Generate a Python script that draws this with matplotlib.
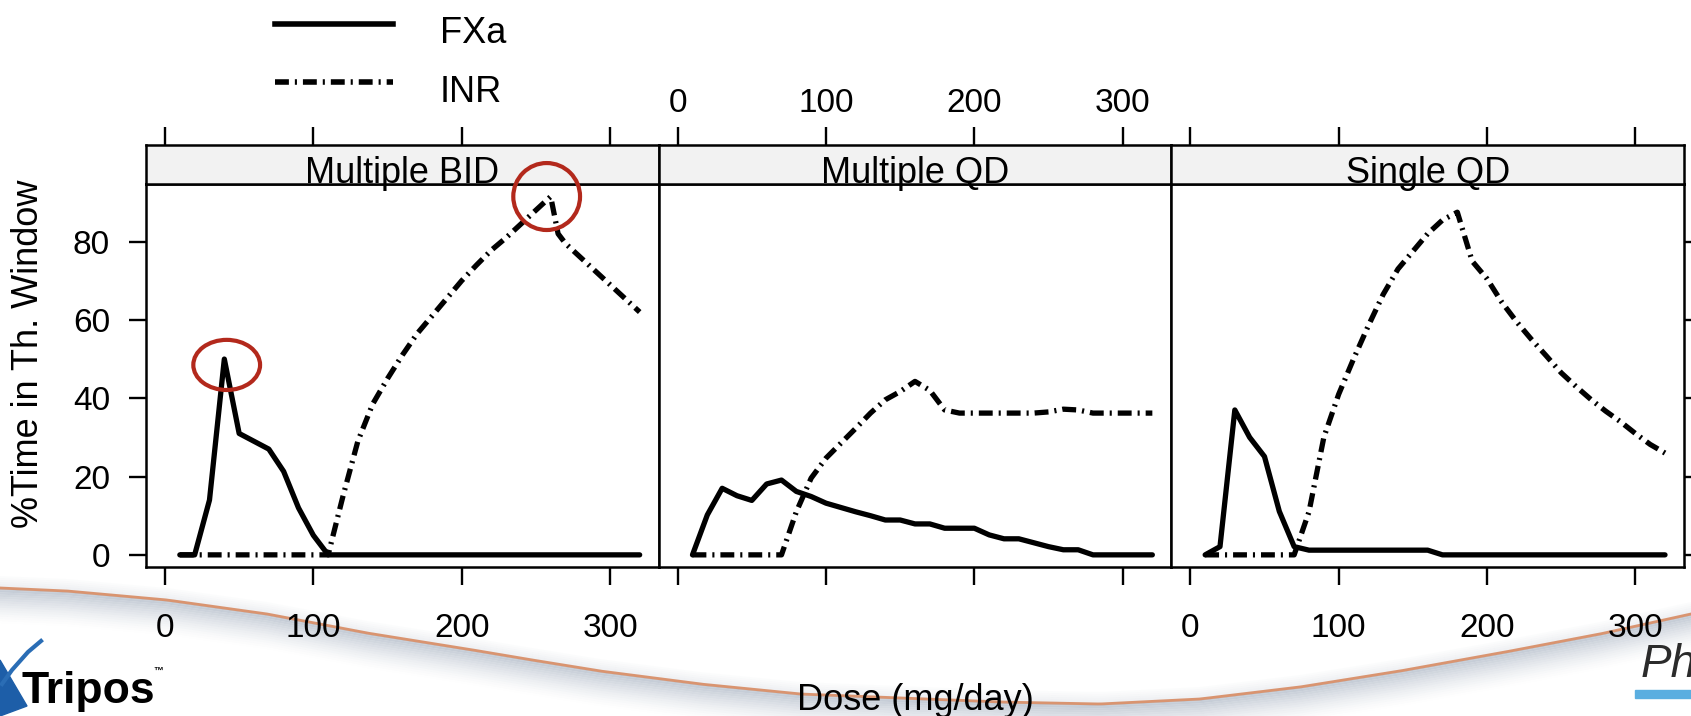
import numpy as np
import matplotlib.pyplot as plt
from matplotlib.lines import Line2D
from matplotlib.patches import Ellipse, Polygon, Rectangle

plt.rcParams['font.family'] = ['Liberation Sans', 'DejaVu Sans']
plt.rcParams['lines.scale_dashes'] = False

W, H = 1691, 716

panels = ['Multiple BID', 'Multiple QD', 'Single QD']

# Multiple BID (extra point at 265 where INR drops)
dose_bid = [10, 20, 30, 40, 50, 60, 70, 80, 90, 100, 110, 120, 130, 140, 150, 160,
            170, 180, 190, 200, 210, 220, 230, 240, 250, 260, 265, 270, 280, 290,
            300, 310, 320]
fxa_bid = [0, 0, 14, 50, 31, 29, 27, 21.3, 12, 5, 0, 0, 0, 0, 0, 0,
           0, 0, 0, 0, 0, 0, 0, 0, 0, 0, 0, 0, 0, 0,
           0, 0, 0]
inr_bid = [0, 0, 0, 0, 0, 0, 0, 0, 0, 0, 0, 15, 29, 38.5, 45, 51,
           56.5, 61, 65.5, 70, 74, 77.8, 81, 84.5, 88, 91.5, 82, 79.5, 76, 72.5,
           69, 65.5, 62]

# Multiple QD / Single QD
dose_qd = [10, 20, 30, 40, 50, 60, 70, 80, 90, 100, 110, 120, 130, 140, 150, 160,
           170, 180, 190, 200, 210, 220, 230, 240, 250, 260, 270, 280, 290, 300,
           310, 320]
fxa_mqd = [0, 10.2, 17, 15.1, 13.9, 18.1, 19.1, 16.2, 14.9, 13.2, 12.1, 11, 10, 8.9, 8.9, 7.9,
           7.9, 6.8, 6.8, 6.8, 5.1, 4.1, 4.1, 3.1, 2.1, 1.3, 1.3, 0, 0, 0,
           0, 0]
inr_mqd = [0, 0, 0, 0, 0, 0, 0, 11, 19.6, 24.7, 28.5, 32.3, 36.2, 39.6, 41.7, 44.3,
           42, 37, 36.2, 36.2, 36.2, 36.2, 36.2, 36.2, 36.5, 37.2, 37, 36.2, 36.2, 36.2,
           36.2, 36.2]
fxa_sqd = [0, 2.1, 37, 30, 25.1, 11.1, 2.1, 1.2, 1.2, 1.2, 1.2, 1.2, 1.2, 1.2, 1.2, 1.2,
           0, 0, 0, 0, 0, 0, 0, 0, 0, 0, 0, 0, 0, 0,
           0, 0]
inr_sqd = [0, 0, 0, 0, 0, 0, 0, 11, 30, 41, 50, 58.5, 66.5, 73, 77.5, 82,
           85.5, 87.5, 75, 70.5, 64.5, 59.5, 55, 50.8, 46.5, 43, 39.7, 36.7, 34, 31,
           28.2, 26]

xticks = [0, 100, 200, 300]
yticks = [0, 20, 40, 60, 80]

series = [(dose_bid, fxa_bid, inr_bid),
          (dose_qd, fxa_mqd, inr_mqd),
          (dose_qd, fxa_sqd, inr_sqd)]

inr_dash = (10, 4.3, 1.5, 4.3)
red = '#b3291c'
lw_data = 3.8

fig = plt.figure(figsize=(W / 100, H / 100), dpi=100)

# slide background: swoosh + logos
bg = fig.add_axes([0, 0, 1, 1], zorder=-10)
bg.set_xlim(0, W)
bg.set_ylim(H, 0)
bg.axis('off')
sw_x = [0, 67, 167, 267, 367, 467, 520, 600, 700, 800, 900, 1000, 1100, 1200,
        1300, 1400, 1500, 1600, 1691]
sw_y = [588, 591, 600, 614, 633, 649, 658, 671, 684, 694, 698, 702, 704, 699,
        687, 671, 653, 634, 614]
xs = np.linspace(0, W, 400)
ys = np.interp(xs, sw_x, sw_y)
for k in range(16):
    bg.fill_between(xs, ys + k * 2.2, ys + (k + 1) * 2.2, color='#97a4b6',
                    alpha=0.6 * (1 - k / 16) ** 1.5, lw=0)
for k in range(6):
    bg.fill_between(xs, ys - (k + 1) * 2, ys - k * 2, color='#b8c0cc',
                    alpha=0.25 * (1 - k / 6), lw=0)
bg.plot(xs, ys, color='#d99470', lw=2)
bg.add_patch(Polygon([(0, 660), (27, 706), (0, 716)], closed=True, color='#1d5ea8'))
bg.plot([41, 28, 12, 2], [641, 652, 670, 684], color='#2a6db5', lw=3)
bg.text(22, 703, 'Tripos', fontsize=32, fontweight='bold', va='baseline', ha='left')
bg.text(153, 674, '™', fontsize=7, fontweight='bold', va='baseline', ha='left')
bg.text(1641, 677, 'Ph', fontsize=33, style='italic', color='#2b2b2b', va='baseline', ha='left')
bg.add_patch(Rectangle((1635, 690), 56, 8, color='#5aaee0'))

pw = (1684 - 146) / 3
axes = []
for i, (name, (d, f, r)) in enumerate(zip(panels, series)):
    x0 = 146 + i * pw
    ax = fig.add_axes([x0 / W, (H - 567) / H, pw / W, (567 - 184) / H])
    ax.plot(d, r, color='black', lw=lw_data, dashes=inr_dash, dash_capstyle='butt')
    ax.plot(d, f, color='black', lw=lw_data, solid_capstyle='round', solid_joinstyle='round')
    ax.set_xlim(-12.8, 332.8)
    ax.set_ylim(-3.1, 94.7)
    ax.set_xticks(xticks)
    ax.set_yticks(yticks)
    ax.tick_params(axis='x', direction='out', length=13, width=1.7, labelsize=24, pad=20,
                   bottom=True, top=False, labelbottom=(i != 1))
    ax.tick_params(axis='y', direction='out', length=12, width=1.7, labelsize=24, pad=14,
                   left=(i == 0), labelleft=(i == 0), right=(i == 2), labelright=False)
    for s in ax.spines.values():
        s.set_linewidth(1.8)

    sax = fig.add_axes([x0 / W, (H - 184) / H, pw / W, 39 / H])
    sax.set_facecolor('#f2f2f2')
    sax.set_xlim(-12.8, 332.8)
    sax.set_ylim(0, 1)
    sax.set_yticks([])
    sax.set_xticks(xticks)
    sax.xaxis.tick_top()
    sax.tick_params(axis='x', direction='out', length=13, width=1.7, labelsize=24, pad=6,
                    top=True, bottom=False, labeltop=(i == 1), labelbottom=False)
    for s in sax.spines.values():
        s.set_linewidth(1.8)
    sax.text(0.5, 0.02, name, ha='center', va='baseline', fontsize=26,
             transform=sax.transAxes)
    axes.append(ax)

# red highlight rings on panel 1
ax1 = axes[0]
i_f = int(np.argmax(fxa_bid))
i_r = int(np.argmax(inr_bid))
fig.add_artist(Ellipse((dose_bid[i_f] + 1.6, fxa_bid[i_f] - 1.5), 45, 12.8,
                       transform=ax1.transData, fill=False, ec=red, lw=3, zorder=20))
fig.add_artist(Ellipse((dose_bid[i_r] - 2.7, inr_bid[i_r]), 45, 17.1,
                       transform=ax1.transData, fill=False, ec=red, lw=3, zorder=20))

# legend
fig.add_artist(Line2D([274.5 / W, 393 / W], [1 - 24.3 / H] * 2, color='black', lw=4))
fig.add_artist(Line2D([274.5 / W, 393 / W], [1 - 81.7 / H] * 2, color='black', lw=4,
                      dashes=inr_dash, dash_capstyle='butt'))
fig.text(440 / W, 1 - 43.3 / H, 'FXa', fontsize=26, va='baseline', ha='left')
fig.text(440 / W, 1 - 101.7 / H, 'INR', fontsize=26, va='baseline', ha='left')

fig.text(29 / W, 1 - 354 / H, '%Time in Th. Window', rotation=90, fontsize=26,
         ha='center', va='center')
fig.text(915 / W, 1 - 710 / H, 'Dose (mg/day)', fontsize=26, ha='center', va='baseline')

fig.savefig('out.png', dpi=100)
